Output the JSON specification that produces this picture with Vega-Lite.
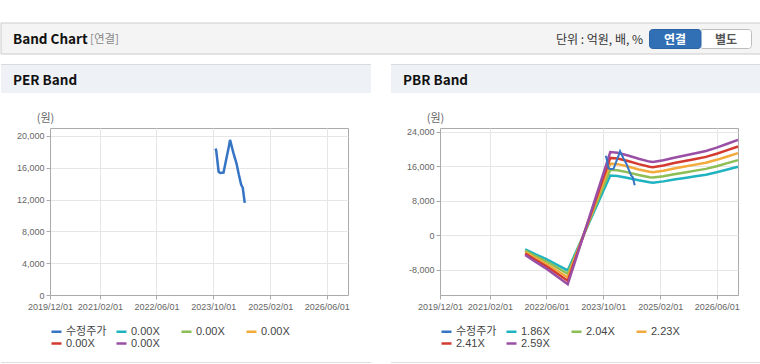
{
  "$schema": "https://vega.github.io/schema/vega-lite/v6.json",
  "padding": {"left": 0, "top": 22, "right": 0, "bottom": 0},
  "background": "#ffffff",
  "spacing": 8,
  "config": {
    "font": "Liberation Sans, Noto Sans CJK KR",
    "view": {"stroke": null},
    "axis": {"labelFont": "Liberation Sans", "labelFontSize": 9, "labelColor": "#666666", "tickColor": "#aaaaaa", "tickSize": 4, "domainColor": "#aaaaaa", "gridColor": "#e6e6e6", "titleFont": "Noto Sans CJK KR", "titleFontSize": 11, "titleFontWeight": "normal", "titleColor": "#666666"},
    "axisX": {"labelPadding": 3},
    "axisY": {"labelPadding": 2, "titleAngle": 0, "titleX": -5, "titleY": -10, "titleAlign": "center", "titleBaseline": "middle"}
  },
  "datasets": {
    "price": [
      {"date": "2023-10-20", "value": 18400, "series": "수정주가"},
      {"date": "2023-10-27", "value": 18200, "series": "수정주가"},
      {"date": "2023-11-17", "value": 15500, "series": "수정주가"},
      {"date": "2023-12-01", "value": 15350, "series": "수정주가"},
      {"date": "2023-12-29", "value": 15400, "series": "수정주가"},
      {"date": "2024-01-19", "value": 16900, "series": "수정주가"},
      {"date": "2024-02-09", "value": 18400, "series": "수정주가"},
      {"date": "2024-02-23", "value": 19500, "series": "수정주가"},
      {"date": "2024-03-22", "value": 17900, "series": "수정주가"},
      {"date": "2024-04-19", "value": 16500, "series": "수정주가"},
      {"date": "2024-05-08", "value": 15160, "series": "수정주가"},
      {"date": "2024-05-28", "value": 13900, "series": "수정주가"},
      {"date": "2024-06-11", "value": 13480, "series": "수정주가"},
      {"date": "2024-06-28", "value": 11590, "series": "수정주가"}
    ],
    "pbr": [
      {"date": "2021-12-01", "value": -3292, "series": "1.86X"},
      {"date": "2022-03-01", "value": -4464, "series": "1.86X"},
      {"date": "2022-06-01", "value": -5580, "series": "1.86X"},
      {"date": "2022-09-01", "value": -6882, "series": "1.86X"},
      {"date": "2022-12-01", "value": -8184, "series": "1.86X"},
      {"date": "2023-12-01", "value": 13857, "series": "1.86X"},
      {"date": "2024-02-01", "value": 13764, "series": "1.86X"},
      {"date": "2024-05-01", "value": 13299, "series": "1.86X"},
      {"date": "2024-08-01", "value": 12741, "series": "1.86X"},
      {"date": "2024-11-01", "value": 12276, "series": "1.86X"},
      {"date": "2024-12-01", "value": 12202, "series": "1.86X"},
      {"date": "2025-03-01", "value": 12499, "series": "1.86X"},
      {"date": "2025-06-01", "value": 12927, "series": "1.86X"},
      {"date": "2025-09-01", "value": 13299, "series": "1.86X"},
      {"date": "2025-12-01", "value": 13671, "series": "1.86X"},
      {"date": "2026-03-01", "value": 14043, "series": "1.86X"},
      {"date": "2026-06-01", "value": 14601, "series": "1.86X"},
      {"date": "2026-09-01", "value": 15252, "series": "1.86X"},
      {"date": "2026-12-01", "value": 15903, "series": "1.86X"},
      {"date": "2021-12-01", "value": -3611, "series": "2.04X"},
      {"date": "2022-03-01", "value": -4896, "series": "2.04X"},
      {"date": "2022-06-01", "value": -6120, "series": "2.04X"},
      {"date": "2022-09-01", "value": -7548, "series": "2.04X"},
      {"date": "2022-12-01", "value": -8976, "series": "2.04X"},
      {"date": "2023-12-01", "value": 15198, "series": "2.04X"},
      {"date": "2024-02-01", "value": 15096, "series": "2.04X"},
      {"date": "2024-05-01", "value": 14586, "series": "2.04X"},
      {"date": "2024-08-01", "value": 13974, "series": "2.04X"},
      {"date": "2024-11-01", "value": 13464, "series": "2.04X"},
      {"date": "2024-12-01", "value": 13382, "series": "2.04X"},
      {"date": "2025-03-01", "value": 13709, "series": "2.04X"},
      {"date": "2025-06-01", "value": 14178, "series": "2.04X"},
      {"date": "2025-09-01", "value": 14586, "series": "2.04X"},
      {"date": "2025-12-01", "value": 14994, "series": "2.04X"},
      {"date": "2026-03-01", "value": 15402, "series": "2.04X"},
      {"date": "2026-06-01", "value": 16014, "series": "2.04X"},
      {"date": "2026-09-01", "value": 16728, "series": "2.04X"},
      {"date": "2026-12-01", "value": 17442, "series": "2.04X"},
      {"date": "2021-12-01", "value": -3947, "series": "2.23X"},
      {"date": "2022-03-01", "value": -5352, "series": "2.23X"},
      {"date": "2022-06-01", "value": -6690, "series": "2.23X"},
      {"date": "2022-09-01", "value": -8251, "series": "2.23X"},
      {"date": "2022-12-01", "value": -9812, "series": "2.23X"},
      {"date": "2023-12-01", "value": 16614, "series": "2.23X"},
      {"date": "2024-02-01", "value": 16502, "series": "2.23X"},
      {"date": "2024-05-01", "value": 15945, "series": "2.23X"},
      {"date": "2024-08-01", "value": 15276, "series": "2.23X"},
      {"date": "2024-11-01", "value": 14718, "series": "2.23X"},
      {"date": "2024-12-01", "value": 14629, "series": "2.23X"},
      {"date": "2025-03-01", "value": 14986, "series": "2.23X"},
      {"date": "2025-06-01", "value": 15499, "series": "2.23X"},
      {"date": "2025-09-01", "value": 15945, "series": "2.23X"},
      {"date": "2025-12-01", "value": 16391, "series": "2.23X"},
      {"date": "2026-03-01", "value": 16837, "series": "2.23X"},
      {"date": "2026-06-01", "value": 17506, "series": "2.23X"},
      {"date": "2026-09-01", "value": 18286, "series": "2.23X"},
      {"date": "2026-12-01", "value": 19067, "series": "2.23X"},
      {"date": "2021-12-01", "value": -4266, "series": "2.41X"},
      {"date": "2022-03-01", "value": -5784, "series": "2.41X"},
      {"date": "2022-06-01", "value": -7230, "series": "2.41X"},
      {"date": "2022-09-01", "value": -8917, "series": "2.41X"},
      {"date": "2022-12-01", "value": -10604, "series": "2.41X"},
      {"date": "2023-12-01", "value": 17955, "series": "2.41X"},
      {"date": "2024-02-01", "value": 17834, "series": "2.41X"},
      {"date": "2024-05-01", "value": 17232, "series": "2.41X"},
      {"date": "2024-08-01", "value": 16509, "series": "2.41X"},
      {"date": "2024-11-01", "value": 15906, "series": "2.41X"},
      {"date": "2024-12-01", "value": 15810, "series": "2.41X"},
      {"date": "2025-03-01", "value": 16195, "series": "2.41X"},
      {"date": "2025-06-01", "value": 16750, "series": "2.41X"},
      {"date": "2025-09-01", "value": 17232, "series": "2.41X"},
      {"date": "2025-12-01", "value": 17714, "series": "2.41X"},
      {"date": "2026-03-01", "value": 18196, "series": "2.41X"},
      {"date": "2026-06-01", "value": 18919, "series": "2.41X"},
      {"date": "2026-09-01", "value": 19762, "series": "2.41X"},
      {"date": "2026-12-01", "value": 20606, "series": "2.41X"},
      {"date": "2021-12-01", "value": -4584, "series": "2.59X"},
      {"date": "2022-03-01", "value": -6216, "series": "2.59X"},
      {"date": "2022-06-01", "value": -7770, "series": "2.59X"},
      {"date": "2022-09-01", "value": -9583, "series": "2.59X"},
      {"date": "2022-12-01", "value": -11396, "series": "2.59X"},
      {"date": "2023-12-01", "value": 19296, "series": "2.59X"},
      {"date": "2024-02-01", "value": 19166, "series": "2.59X"},
      {"date": "2024-05-01", "value": 18519, "series": "2.59X"},
      {"date": "2024-08-01", "value": 17742, "series": "2.59X"},
      {"date": "2024-11-01", "value": 17094, "series": "2.59X"},
      {"date": "2024-12-01", "value": 16990, "series": "2.59X"},
      {"date": "2025-03-01", "value": 17405, "series": "2.59X"},
      {"date": "2025-06-01", "value": 18001, "series": "2.59X"},
      {"date": "2025-09-01", "value": 18519, "series": "2.59X"},
      {"date": "2025-12-01", "value": 19037, "series": "2.59X"},
      {"date": "2026-03-01", "value": 19555, "series": "2.59X"},
      {"date": "2026-06-01", "value": 20332, "series": "2.59X"},
      {"date": "2026-09-01", "value": 21238, "series": "2.59X"},
      {"date": "2026-12-01", "value": 22145, "series": "2.59X"}
    ]
  },
  "vconcat": [
    {
      "width": 711,
      "height": 31,
      "data": {"values": [{}]},
      "layer": [
        {"mark": {"type": "rect", "fill": "#f4f4f4", "stroke": "#cccccc"}, "encoding": {"x": {"value": -49}, "x2": {"value": 711}, "y": {"value": 0}, "y2": {"value": 31}}},
        {"mark": {"type": "text", "text": "Band Chart", "align": "left", "baseline": "middle", "font": "Noto Sans CJK KR", "fontSize": 13.5, "fontWeight": "bold", "fill": "#111111"}, "encoding": {"x": {"value": -37}, "y": {"value": 17}}},
        {"mark": {"type": "text", "text": "[연결]", "align": "left", "baseline": "middle", "font": "Noto Sans CJK KR", "fontSize": 11.5, "fill": "#888888"}, "encoding": {"x": {"value": 40}, "y": {"value": 17}}},
        {"mark": {"type": "text", "text": "단위 : 억원, 배, %", "align": "right", "baseline": "middle", "font": "Noto Sans CJK KR", "fontSize": 12, "fill": "#333333"}, "encoding": {"x": {"value": 593}, "y": {"value": 16.5}}},
        {"mark": {"type": "rect", "fill": "#ffffff", "stroke": "#bdbdbd", "cornerRadius": 3}, "encoding": {"x": {"value": 650}, "x2": {"value": 701.5}, "y": {"value": 6.5}, "y2": {"value": 25.5}}},
        {"mark": {"type": "rect", "fill": "#3170b5", "stroke": "#2b63a3", "cornerRadius": 3}, "encoding": {"x": {"value": 599.5}, "x2": {"value": 651}, "y": {"value": 6.5}, "y2": {"value": 25.5}}},
        {"mark": {"type": "text", "text": "연결", "align": "center", "baseline": "middle", "font": "Noto Sans CJK KR", "fontSize": 12, "fontWeight": "bold", "fill": "#ffffff"}, "encoding": {"x": {"value": 625}, "y": {"value": 16.5}}},
        {"mark": {"type": "text", "text": "별도", "align": "center", "baseline": "middle", "font": "Noto Sans CJK KR", "fontSize": 12, "fontWeight": "bold", "fill": "#555555"}, "encoding": {"x": {"value": 676}, "y": {"value": 16.5}}}
      ]
    },
    {
      "spacing": 18,
      "resolve": {"scale": {"color": "independent"}, "legend": {"color": "independent"}},
      "hconcat": [
        {
          "width": 298,
          "height": 167,
          "view": {"fill": "#ffffff", "stroke": "#aaaaaa"},
          "layer": [
            {"data": {"values": [{}]}, "mark": {"type": "rect", "fill": "#eef2f7"}, "encoding": {"x": {"value": -49}, "x2": {"value": 321}, "y": {"value": -64}, "y2": {"value": -35}}},
            {"data": {"values": [{}]}, "mark": {"type": "rule", "stroke": "#d8dadd"}, "encoding": {"x": {"value": -49}, "x2": {"value": 321}, "y": {"value": -63.5}}},
            {"data": {"values": [{}]}, "mark": {"type": "rule", "stroke": "#dddddd"}, "encoding": {"x": {"value": -49}, "x2": {"value": 321}, "y": {"value": 234.5}}},
            {"data": {"values": [{}]}, "mark": {"type": "text", "text": "PER Band", "align": "left", "baseline": "middle", "font": "Noto Sans CJK KR", "fontSize": 13.5, "fontWeight": "bold", "fill": "#111111"}, "encoding": {"x": {"value": -37}, "y": {"value": -47}}},
            {
              "data": {"name": "price"},
              "mark": {"type": "line", "strokeWidth": 2.5},
              "encoding": {
                "x": {"field": "date", "type": "temporal",
                  "scale": {"type": "utc", "domain": [{"year": 2019, "month": 12, "date": 1, "utc": true}, {"year": 2026, "month": 12, "date": 1, "utc": true}]},
                  "axis": {"title": null, "grid": true, "format": "%Y/%m/%d", "labelOverlap": false, "labelFlush": false,
                    "values": [{"year": 2019, "month": 12, "date": 1, "utc": true}, {"year": 2021, "month": 2, "date": 1, "utc": true}, {"year": 2022, "month": 6, "date": 1, "utc": true}, {"year": 2023, "month": 10, "date": 1, "utc": true}, {"year": 2025, "month": 2, "date": 1, "utc": true}, {"year": 2026, "month": 6, "date": 1, "utc": true}]}},
                "y": {"field": "value", "type": "quantitative",
                  "scale": {"domain": [0, 21000], "nice": false, "zero": false},
                  "axis": {"title": "(원)", "grid": true, "format": ",d", "values": [0, 4000, 8000, 12000, 16000, 20000]}},
                "color": {"field": "series", "type": "nominal",
                  "scale": {"domain": ["수정주가", "p1", "p2", "p3", "p4", "p5"], "range": ["#3674c4", "#1fb3c1", "#8dbd55", "#f2aa3c", "#d43b30", "#9a4fa5"]},
                  "legend": {"title": null, "orient": "none", "legendX": 0, "legendY": 197, "direction": "horizontal", "columns": 4, "symbolType": "stroke", "symbolStrokeWidth": 2.5, "symbolSize": 100, "labelFont": "Liberation Sans, Noto Sans CJK KR", "labelFontSize": 11, "labelColor": "#444444", "gridAlign": "all", "columnPadding": 4, "rowPadding": 0, "labelOffset": 3, "padding": 0,
                    "labelExpr": "datum.label == '수정주가' ? datum.label : '0.00X'"}}
              }
            }
          ]
        },
        {
          "width": 298,
          "height": 167,
          "view": {"fill": "#ffffff", "stroke": "#aaaaaa"},
          "layer": [
            {"data": {"values": [{}]}, "mark": {"type": "rect", "fill": "#eef2f7"}, "encoding": {"x": {"value": -49}, "x2": {"value": 321}, "y": {"value": -64}, "y2": {"value": -35}}},
            {"data": {"values": [{}]}, "mark": {"type": "rule", "stroke": "#d8dadd"}, "encoding": {"x": {"value": -49}, "x2": {"value": 321}, "y": {"value": -63.5}}},
            {"data": {"values": [{}]}, "mark": {"type": "rule", "stroke": "#dddddd"}, "encoding": {"x": {"value": -49}, "x2": {"value": 321}, "y": {"value": 234.5}}},
            {"data": {"values": [{}]}, "mark": {"type": "text", "text": "PBR Band", "align": "left", "baseline": "middle", "font": "Noto Sans CJK KR", "fontSize": 13.5, "fontWeight": "bold", "fill": "#111111"}, "encoding": {"x": {"value": -37}, "y": {"value": -47}}},
            {
              "layer": [
                {"data": {"name": "pbr"}, "mark": {"type": "line", "strokeWidth": 2.5}},
                {"data": {"name": "price"}, "mark": {"type": "line", "strokeWidth": 2}}
              ],
              "encoding": {
                "x": {"field": "date", "type": "temporal",
                  "scale": {"type": "utc", "domain": [{"year": 2019, "month": 12, "date": 1, "utc": true}, {"year": 2026, "month": 12, "date": 1, "utc": true}]},
                  "axis": {"title": null, "grid": true, "format": "%Y/%m/%d", "labelOverlap": false, "labelFlush": false,
                    "values": [{"year": 2019, "month": 12, "date": 1, "utc": true}, {"year": 2021, "month": 2, "date": 1, "utc": true}, {"year": 2022, "month": 6, "date": 1, "utc": true}, {"year": 2023, "month": 10, "date": 1, "utc": true}, {"year": 2025, "month": 2, "date": 1, "utc": true}, {"year": 2026, "month": 6, "date": 1, "utc": true}]}},
                "y": {"field": "value", "type": "quantitative",
                  "scale": {"domain": [-13900, 24900], "nice": false, "zero": false},
                  "axis": {"title": "(원)", "grid": true, "values": [-8000, 0, 8000, 16000, 24000], "labelExpr": "(datum.value < 0 ? '-' : '') + format(abs(datum.value), ',d')"}},
                "color": {"field": "series", "type": "nominal",
                  "scale": {"domain": ["수정주가", "1.86X", "2.04X", "2.23X", "2.41X", "2.59X"], "range": ["#3674c4", "#1fb3c1", "#8dbd55", "#f2aa3c", "#d43b30", "#9a4fa5"]},
                  "legend": {"title": null, "orient": "none", "legendX": 0, "legendY": 197, "direction": "horizontal", "columns": 4, "symbolType": "stroke", "symbolStrokeWidth": 2.5, "symbolSize": 100, "labelFont": "Liberation Sans, Noto Sans CJK KR", "labelFontSize": 11, "labelColor": "#444444", "gridAlign": "all", "columnPadding": 4, "rowPadding": 0, "labelOffset": 3, "padding": 0}}
              }
            }
          ]
        }
      ]
    }
  ]
}
